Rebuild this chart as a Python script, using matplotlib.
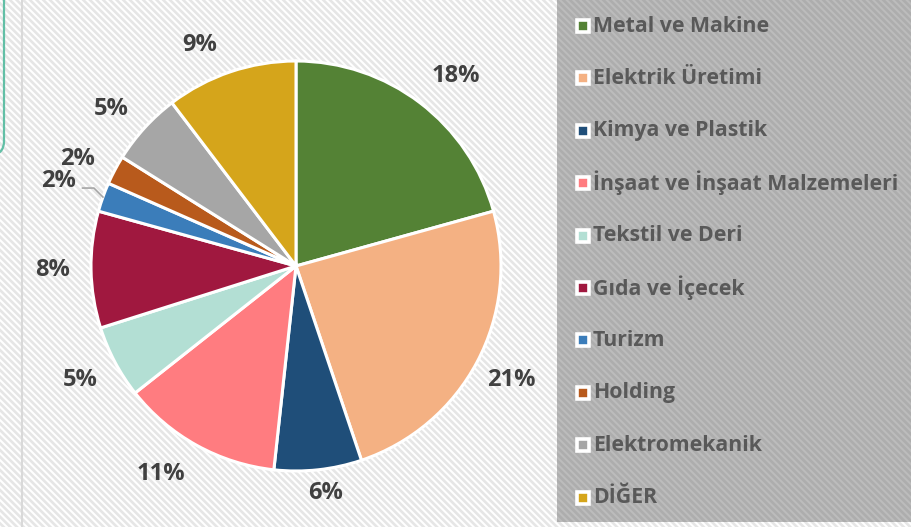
import numpy as np
import matplotlib
matplotlib.use('Agg')
import matplotlib.pyplot as plt
from matplotlib.patches import Rectangle, FancyBboxPatch

# ── Data ─────────────────────────────────────────────────────────────
sectors = ['Metal ve Makine', 'Elektrik Üretimi', 'Kimya ve Plastik',
           'İnşaat ve İnşaat Malzemeleri', 'Tekstil ve Deri', 'Gıda ve İçecek',
           'Turizm', 'Holding', 'Elektromekanik', 'DİĞER']
shares = [18, 21, 6, 11, 5, 8, 2, 2, 5, 9]
colors = ['#548235', '#f4b183', '#1f4e79', '#ff7c80', '#b3dfd4',
          '#a0183f', '#3b7dba', '#b85a1c', '#a6a6a6', '#d5a51b']

# ── Layout (pixels, y up) ────────────────────────────────────────────
W, H = 912, 527
CX, CY, R = 296, 527 - 266, 205
LABEL_R = 1.19
# small nudges (dx, dy) in pixels for some labels
nudge = {0: (12, -4), 2: (3, 16), 3: (-17, 5), 7: (-3, -7),
         8: (-5, -8), 9: (-18, -10)}
turizm_idx = 6

plt.rcParams['hatch.linewidth'] = 1.5
plt.rcParams['font.family'] = ['Open Sans', 'DejaVu Sans']

fig = plt.figure(figsize=(W / 100, H / 100), dpi=100)
ax = fig.add_axes([0, 0, 1, 1])

# background with fine diagonal stripes
ax.add_patch(Rectangle((0, 0), W, H, facecolor='#e6e6e6', edgecolor='white',
                       hatch='\\\\\\\\\\', linewidth=0, zorder=0))
ax.plot([22, 22], [0, H], color='#d9d9d9', linewidth=1.5, zorder=1)
ax.add_patch(FancyBboxPatch((-300, 372), 304, 300,
                            boxstyle='round,pad=0,rounding_size=14',
                            facecolor='none', edgecolor='#62bfa6',
                            linewidth=1.6, zorder=1))

# pie
wedges, _ = ax.pie(shares, colors=colors, center=(CX, CY), radius=R,
                   startangle=90, counterclock=False,
                   wedgeprops=dict(edgecolor='white', linewidth=2.2))
for w in wedges:
    w.set_zorder(3)

for i, (w, v) in enumerate(zip(wedges, shares)):
    mid = np.deg2rad((w.theta1 + w.theta2) / 2)
    rf = 1.23 if i == turizm_idx else LABEL_R
    dx, dy = nudge.get(i, (0, 0))
    x = CX + R * rf * np.cos(mid) + dx
    y = CY + R * rf * np.sin(mid) + dy
    ax.text(x, y, f'{v}%', ha='center', va='center', fontsize=17,
            fontweight='bold', color='#404040', zorder=5)
    if i == turizm_idx:
        ex, ey = CX + R * np.cos(mid), CY + R * np.sin(mid)
        ax.plot([ex, ex - 9, x + 24], [ey, ey + 9, ey + 9],
                color='#a6a6a6', linewidth=1.2, zorder=4)

# legend panel
ax.add_patch(Rectangle((557, 5), W - 557, H - 5, facecolor='#adadad',
                       edgecolor='#bcbcbc', hatch='\\\\\\\\\\', linewidth=0,
                       zorder=2))
top, step = 527 - 25, 52.4
for i, (name, c) in enumerate(zip(sectors, colors)):
    y = top - i * step
    ax.plot(583, y - 1, marker='s', markersize=8.5, markerfacecolor=c,
            markeredgecolor='white', markeredgewidth=2.6, zorder=5)
    ax.text(593, y - 1, name, ha='left', va='center', fontsize=15.3,
            fontweight='bold', color='#595959', zorder=5)

ax.set_xlim(0, W)
ax.set_ylim(0, H)
ax.set_aspect('auto')
ax.axis('off')

fig.savefig('out.png', dpi=100)
